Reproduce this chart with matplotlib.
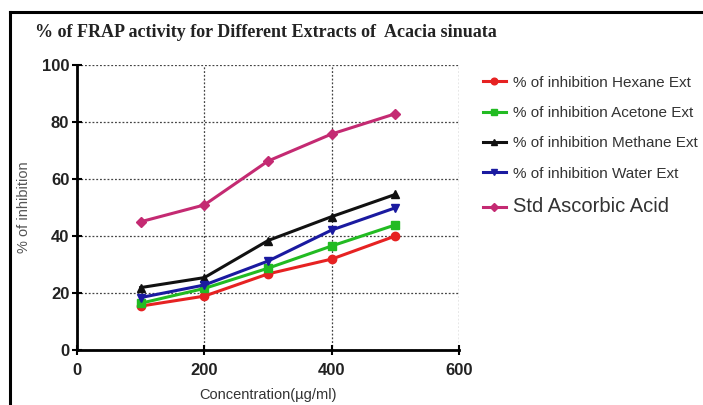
import matplotlib
matplotlib.use("Agg")
import matplotlib.pyplot as plt
from matplotlib.lines import Line2D

conc = [100, 200, 300, 400, 500]
hexane = [15.4, 18.9, 26.7, 31.9, 40.0]
acetone = [16.4, 21.6, 28.7, 36.5, 43.9]
methane = [21.9, 25.4, 38.4, 46.8, 54.6]
water = [18.4, 22.8, 31.2, 42.1, 49.9]
ascorbic = [45.0, 50.9, 66.3, 75.8, 82.9]
labels = ["% of inhibition Hexane Ext", "% of inhibition Acetone Ext",
          "% of inhibition Methane Ext", "% of inhibition Water Ext",
          "Std Ascorbic Acid"]
xticks = [0, 200, 400, 600]
yticks = [0, 20, 40, 60, 80, 100]

plt.rcParams['font.family'] = ['Liberation Sans', 'DejaVu Sans']
fig = plt.figure(figsize=(7.03, 4.05), dpi=100)
ax = fig.add_axes([0.1095, 0.1358, 0.5435, 0.7037])

series = [hexane, acetone, methane, water, ascorbic]
colors = ['#e62222', '#22bb22', '#111111', '#1a1aa0', '#c42a72']
markers = ['o', 's', '^', 'v', 'D']
msizes = [6, 6, 6, 6, 5]
handles = []
for s, c, m, ms, lab in zip(series, colors, markers, msizes, labels):
    h, = ax.plot(conc, s, color=c, marker=m, markersize=ms, linewidth=2.2, label=lab)
    handles.append(h)

ax.set_xlim(0, 600)
ax.set_ylim(0, 100)
ax.set_xticks(xticks)
ax.set_yticks(yticks)
ax.grid(True, color='#444444', linestyle=(0, (1.5, 1.5)), linewidth=0.9)
ax.set_axisbelow(True)
for side in ['top', 'right']:
    ax.spines[side].set_visible(False)
for side in ['left', 'bottom']:
    ax.spines[side].set_linewidth(2)
ax.tick_params(axis='both', direction='inout', length=7, width=1.5, labelsize=12)
ax.tick_params(axis='x', pad=6)
ax.tick_params(axis='y', pad=2)
for t in ax.get_xticklabels() + ax.get_yticklabels():
    t.set_fontweight('bold')
    t.set_color('#222222')
ax.set_xlabel("Concentration(µg/ml)", fontsize=10.5, color='#333333', labelpad=7)
ax.set_ylabel("% of inhibition", fontsize=10.5, color='#555555', labelpad=8)

leg = fig.legend(handles=handles, loc='upper left', bbox_to_anchor=(0.678, 0.828),
                 frameon=False, handlelength=1.5, handletextpad=0.5,
                 labelspacing=1.07, fontsize=11, markerscale=0.8,
                 borderaxespad=0)
for i, t in enumerate(leg.get_texts()):
    t.set_color('#333333')
    if i == 4:
        t.set_fontsize(14.5)

fig.text(0.05, 0.92, "% of FRAP activity for Different Extracts of  Acacia sinuata",
         family=['Liberation Serif', 'DejaVu Serif'], fontsize=13, fontweight='bold',
         color='#222222', va='center', ha='left')

fig.add_artist(Line2D([10/703, 1.0], [1-12/405, 1-12/405], color='black', linewidth=2.2))
fig.add_artist(Line2D([10/703, 10/703], [0, 1-12/405], color='black', linewidth=2.2))

fig.savefig("out.png", dpi=100)
